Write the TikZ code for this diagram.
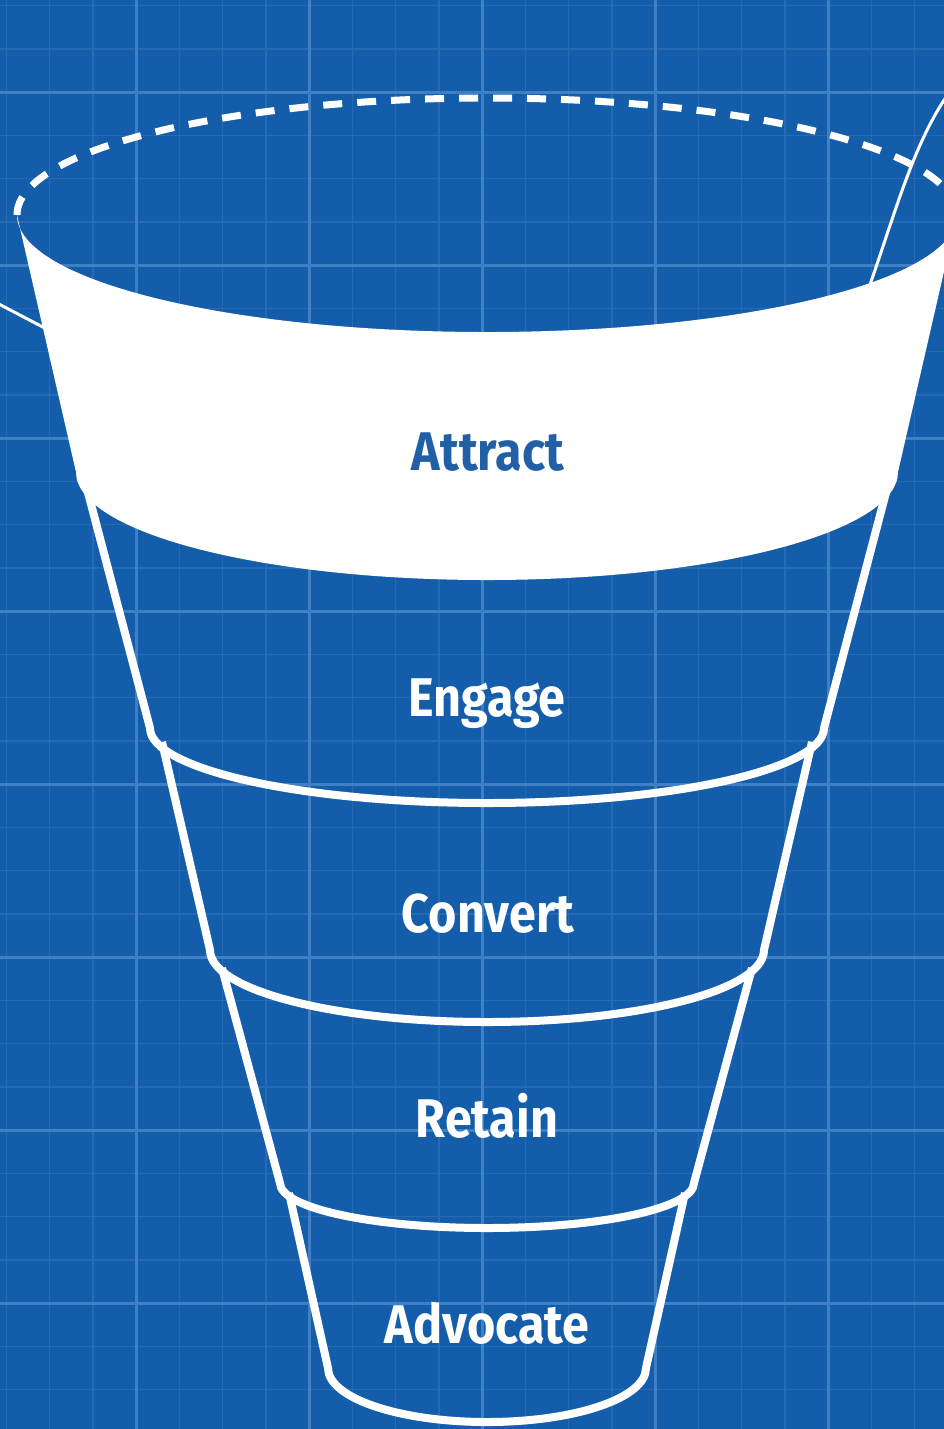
\documentclass[tikz,border=0pt]{standalone}
\usepackage{fontspec}
\setmainfont{Fira Sans}[FakeStretch=0.89]
\definecolor{bgblue}{HTML}{145DAA}
\definecolor{gridlo}{HTML}{276AB4}
\definecolor{gridhi}{HTML}{3F7FC4}
\definecolor{inkblue}{HTML}{2260A5}

\begin{document}
\begin{tikzpicture}[x=0.1mm,y=-0.1mm,
  minor/.style={gridlo,line width=0.15mm},
  major/.style={gridhi,line width=0.3mm},
  rim/.style={white,line width=0.8mm,line join=round},
  rope/.style={white,line width=0.3mm},
  stage/.style={font=\bfseries\fontsize{15.5}{18}\selectfont,text=white,anchor=base,inner sep=0pt}]
 \useasboundingbox (0,0) rectangle (944,1429);
 \clip (0,0) rectangle (944,1429);
 \fill[bgblue] (0,0) rectangle (944,1429); %背景
 \foreach \i in {0,...,21} \draw[minor] ({6.25+43.25*\i},0) -- ({6.25+43.25*\i},1429); %方眼
 \foreach \j in {0,...,32} \draw[minor] (0,{5.5+43.25*\j}) -- (944,{5.5+43.25*\j});
 \foreach \i in {0,...,4} \draw[major] ({136+173*\i},0) -- ({136+173*\i},1429);
 \foreach \j in {0,...,7} \draw[major] (0,{92+173*\j}) -- (944,{92+173*\j});
 \draw[rope] (-5,302) -- (60,336); %左の糸
 \draw[rope] (868,290) .. controls (895,215) and (915,135) .. (955,85); %右の糸
 \draw[white,line width=0.7mm,dash pattern=on 1.9mm off 1.5mm]
   (17,215) .. controls (17,150) and (227,98) .. (487,98) .. controls (747,98) and (957,150) .. (957,215); %口
 \fill[white] (17,215) -- (76,472) .. controls (76,532) and (260,580) .. (487,580)
   .. controls (714,580) and (898,532) .. (898,472) -- (957,215)
   .. controls (957,280) and (747,332) .. (487,332) .. controls (227,332) and (17,280) .. (17,215) -- cycle; %一段目
 \draw[rim] (86,485) -- (150,728) .. controls (150,769) and (301,803) .. (487,803)
   .. controls (673,803) and (824,769) .. (824,728) -- (888,485); %二段目
 \draw[rim] (162,742) -- (210,950) .. controls (210,990) and (334,1022) .. (487,1022)
   .. controls (640,1022) and (764,990) .. (764,950) -- (812,742); %三段目
 \draw[rim] (222,968) -- (280,1183) .. controls (280,1208) and (373,1228) .. (487,1228)
   .. controls (601,1228) and (694,1208) .. (694,1183) -- (752,968); %四段目
 \draw[rim] (289,1193) -- (328,1368) .. controls (328,1398) and (399,1422) .. (487,1422)
   .. controls (575,1422) and (646,1398) .. (646,1368) -- (685,1193); %五段目
 \node[stage,text=inkblue] (attract) at (488,470) {Attract};
 \node[stage] (engage) at (487,716) {Engage};
 \node[stage] (convert) at (488,932) {Convert};
 \node[stage] (retain) at (487,1137) {Retain};
 \node[stage] (advocate) at (487,1343) {Advocate};
\end{tikzpicture}
\end{document}
